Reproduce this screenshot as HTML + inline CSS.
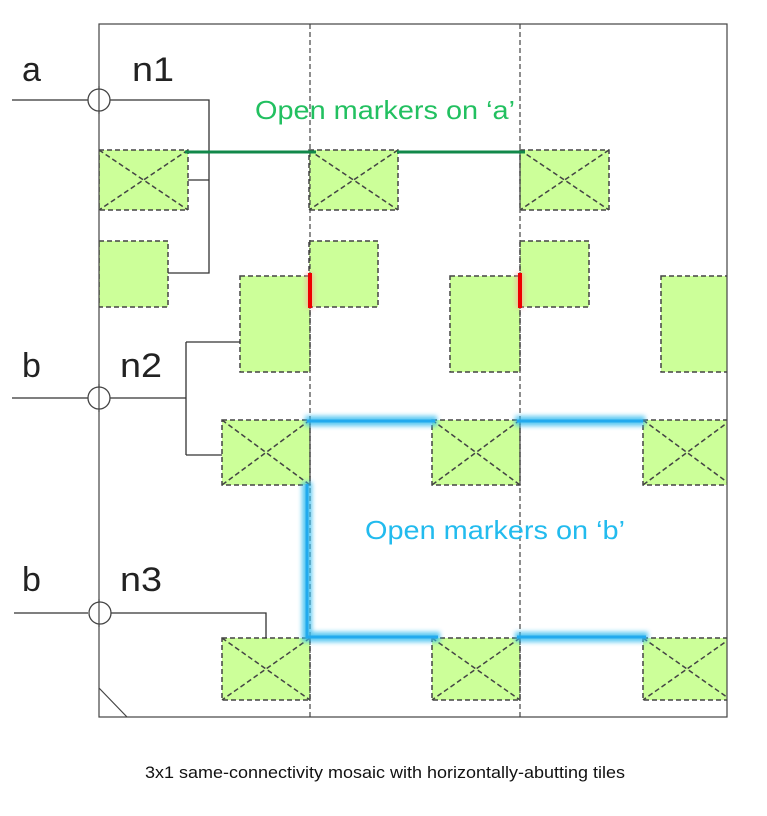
<!DOCTYPE html>
<html><head><style>
body{margin:0;background:#fff;width:767px;height:811px;overflow:hidden}
</style></head><body>
<svg width="767" height="811" viewBox="0 0 767 811" xmlns="http://www.w3.org/2000/svg" font-family="Liberation Sans, Arial, sans-serif">
<defs>
<filter id="blur" x="-20%" y="-50%" width="140%" height="200%"><feGaussianBlur stdDeviation="2.5"/></filter>
<g id="tile">
  <g fill="#ccff99" stroke="#444" stroke-width="1.5" stroke-dasharray="5,3">
    <rect x="99" y="150" width="89" height="60"/>
    <rect x="99" y="241" width="69" height="66"/>
    <rect x="240" y="276" width="70" height="96"/>
    <rect x="222" y="420" width="88" height="65"/>
    <rect x="222" y="638" width="88" height="62"/>
  </g>
  <g stroke="#444" stroke-width="1.5" stroke-dasharray="5,3" fill="none">
    <path d="M99 150 L188 210 M188 150 L99 210"/>
    <path d="M222 420 L310 485 M310 420 L222 485"/>
    <path d="M222 638 L310 700 M310 638 L222 700"/>
  </g>
</g>
<clipPath id="frame"><rect x="99" y="24" width="628" height="693"/></clipPath>
</defs>
<g clip-path="url(#frame)">
  <use href="#tile"/>
  <use href="#tile" x="210"/>
  <use href="#tile" x="421"/>
</g>
<rect x="99" y="24" width="628" height="693" fill="none" stroke="#444" stroke-width="1.2"/>
<line x1="310" y1="24" x2="310" y2="717" stroke="#444" stroke-width="1.2" stroke-dasharray="5,3"/>
<line x1="520" y1="24" x2="520" y2="717" stroke="#444" stroke-width="1.2" stroke-dasharray="5,3"/>
<line x1="99" y1="688" x2="127" y2="717" stroke="#444" stroke-width="1.2"/>
<g stroke="#333" stroke-width="1.3" fill="none">
  <line x1="12" y1="100" x2="88" y2="100"/>
  <path d="M110 100 H209 V273 H168 M188 180 H209"/>
  <line x1="12" y1="398" x2="88" y2="398"/>
  <path d="M110 398 H186 M186 342 V455 M186 342 H240 M186 455 H222"/>
  <line x1="14" y1="613" x2="88" y2="613"/>
  <path d="M110 613 H266 V638"/>
</g>
<g fill="#fff" stroke="#444" stroke-width="1.3">
  <circle cx="99" cy="100" r="11"/>
  <circle cx="99" cy="398" r="11"/>
  <circle cx="100" cy="613" r="11"/>
</g>
<g stroke="#444" stroke-width="1.2"><line x1="99" y1="86" x2="99" y2="114"/><line x1="99" y1="384" x2="99" y2="412"/><line x1="99" y1="599" x2="99" y2="627"/></g>
<g stroke="#44bb88" stroke-width="12" opacity="0.7" filter="url(#blur)">
  <line x1="183" y1="152" x2="318" y2="152"/>
  <line x1="395" y1="152" x2="527" y2="152"/>
</g>
<g stroke="#11884a" stroke-width="3">
  <line x1="185" y1="152" x2="316" y2="152"/>
  <line x1="397" y1="152" x2="525" y2="152"/>
</g>
<g stroke="#ff9999" stroke-width="8" opacity="0.6" filter="url(#blur)">
  <line x1="310" y1="273" x2="310" y2="308"/>
  <line x1="520" y1="273" x2="520" y2="308"/>
</g>
<g stroke="#ee0000" stroke-width="4">
  <line x1="310" y1="273" x2="310" y2="308"/>
  <line x1="520" y1="273" x2="520" y2="308"/>
</g>
<g stroke="#33bbee" stroke-width="10" opacity="0.8" filter="url(#blur)" fill="none">
  <line x1="305" y1="421" x2="437" y2="421"/>
  <line x1="515" y1="421" x2="645" y2="421"/>
  <path d="M307 482 V637 H440"/>
  <line x1="515" y1="637" x2="648" y2="637"/>
</g>
<g stroke="#22aaee" stroke-width="3" fill="none">
  <line x1="307" y1="421" x2="435" y2="421"/>
  <line x1="517" y1="421" x2="643" y2="421"/>
  <path d="M307 484 V637 H438"/>
  <line x1="517" y1="637" x2="646" y2="637"/>
</g>
<g font-size="34" fill="#222">
  <text x="22" y="81">a</text>
  <text x="132" y="81" textLength="42" lengthAdjust="spacingAndGlyphs">n1</text>
  <text x="22" y="377">b</text>
  <text x="120" y="377" textLength="42" lengthAdjust="spacingAndGlyphs">n2</text>
  <text x="22" y="591">b</text>
  <text x="120" y="591" textLength="42" lengthAdjust="spacingAndGlyphs">n3</text>
</g>
<text x="255" y="119" font-size="26" fill="#22c060" textLength="260" lengthAdjust="spacingAndGlyphs">Open markers on ‘a’</text>
<text x="365" y="539" font-size="26" fill="#22bbee" textLength="260" lengthAdjust="spacingAndGlyphs">Open markers on ‘b’</text>
<text x="145" y="778" font-size="17" fill="#111" textLength="480" lengthAdjust="spacingAndGlyphs">3x1 same-connectivity mosaic with horizontally-abutting tiles</text>
</svg>
</body></html>
